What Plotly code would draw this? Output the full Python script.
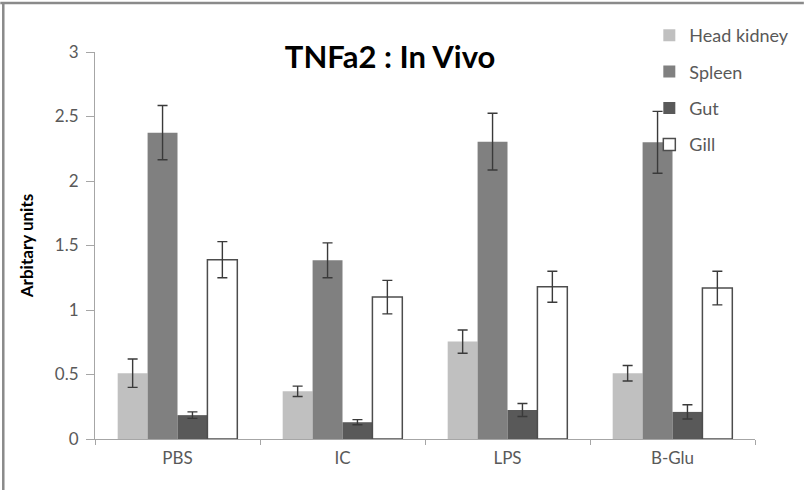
import plotly.graph_objects as go

categories = ["PBS", "IC", "LPS", "B-Glu"]
series_names = ["Head kidney", "Spleen", "Gut", "Gill"]
head_kidney = [0.51, 0.37, 0.755, 0.51]
spleen = [2.375, 1.385, 2.305, 2.30]
gut = [0.185, 0.13, 0.225, 0.21]
gill = [1.39, 1.10, 1.18, 1.17]
head_kidney_err = [0.11, 0.04, 0.09, 0.06]
spleen_err = [0.21, 0.135, 0.22, 0.24]
gut_err = [0.025, 0.02, 0.05, 0.055]
gill_err = [0.14, 0.13, 0.12, 0.13]
y_ticks = [0, 0.5, 1, 1.5, 2, 2.5, 3]
y_tick_labels = ["0", "0.5", "1", "1.5", "2", "2.5", "3"]

values = [head_kidney, spleen, gut, gill]
errors = [head_kidney_err, spleen_err, gut_err, gill_err]
fills = ["#c0c0c0", "#808080", "#595959", "#ffffff"]
outlines = ["#c0c0c0", "#808080", "#595959", "#4d4d4d"]
outline_w = [0, 0, 0, 1.5]

FONT = "Lato"
W, H = 806, 490
ML, MR, MT, MB = 95, 49, 52, 51
pw, ph = W - ML - MR, H - MT - MB

fig = go.Figure()
for i, name in enumerate(series_names):
    fig.add_trace(go.Bar(
        x=categories, y=values[i], name=name, legendgroup=name,
        marker=dict(color=fills[i], line=dict(color=outlines[i], width=outline_w[i])),
        error_y=dict(type="data", array=errors[i], visible=True,
                     color="#3a3a3a", thickness=1.4, width=5),
    ))

def px_x(p):
    return (p - ML) / pw

def px_y(p):
    return (H - MB - p) / ph

shapes = [
    dict(type="line", xref="paper", yref="paper", x0=px_x(0), x1=px_x(W),
         y0=px_y(3), y1=px_y(3), line=dict(color="#8a8a8a", width=2.5)),
    dict(type="line", xref="paper", yref="paper", x0=px_x(3), x1=px_x(3),
         y0=px_y(3), y1=px_y(H), line=dict(color="#8a8a8a", width=2.5)),
]

fig.update_layout(
    width=W, height=H,
    margin=dict(l=ML, r=MR, t=MT, b=MB),
    paper_bgcolor="white", plot_bgcolor="white",
    barmode="group", bargap=0.275, bargroupgap=0,
    font=dict(family=FONT, color="#595959", size=17),
    title=dict(text="<b>TNFa2 : In Vivo</b>", x=px_x(391), xanchor="center", xref="paper",
               y=1 - 57 / H, yanchor="middle",
               font=dict(family=FONT, size=31, color="#000000")),
    showlegend=True,
    legend=dict(x=px_x(651), xanchor="left", y=px_y(17), yanchor="top",
                bgcolor="rgba(0,0,0,0)", traceorder="grouped", tracegroupgap=10,
                font=dict(family=FONT, size=18, color="#595959"),
                itemwidth=30),
    shapes=shapes,
    xaxis=dict(showgrid=False, showline=True, linecolor="#a6a6a6", linewidth=1,
               ticks="outside", tickson="boundaries", ticklen=5, tickcolor="#a6a6a6",
               ticklabelstandoff=4,
               tickfont=dict(size=17, color="#595959")),
    yaxis=dict(range=[0, 3], showgrid=False, showline=True, linecolor="#a6a6a6",
               linewidth=1, ticks="outside", ticklen=8, tickcolor="#a6a6a6",
               ticklabelstandoff=4,
               tickvals=y_ticks, ticktext=y_tick_labels, zeroline=False,
               tickfont=dict(size=17, color="#595959"),
               title=dict(text="<b>Arbitary units</b>", standoff=16,
                          font=dict(size=17, color="#000000"))),
)

fig.write_html("out.html", config={"displayModeBar": False},
               post_script="document.body.style.margin='0';document.body.style.padding='0';")
